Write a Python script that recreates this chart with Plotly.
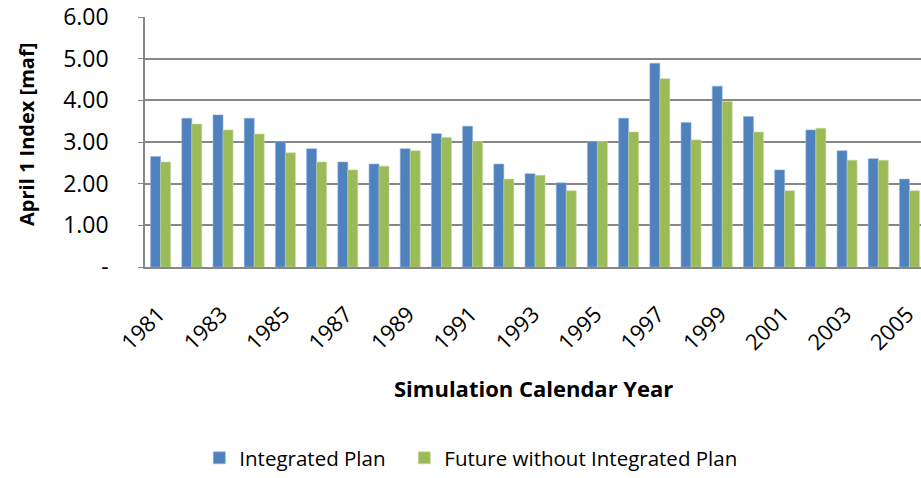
import plotly.graph_objects as go

years = list(range(1981, 2006))
integrated_plan = [2.65, 3.57, 3.65, 3.57, 3.01, 2.84, 2.52, 2.47,
                   2.84, 3.20, 3.38, 2.47, 2.24, 2.02, 3.01, 3.57,
                   4.89, 3.47, 4.34, 3.61, 2.33, 3.29, 2.79, 2.60, 2.11]
future_without = [2.52, 3.43, 3.29, 3.19, 2.74, 2.52, 2.33, 2.42,
                  2.79, 3.11, 3.01, 2.11, 2.20, 1.83, 3.01, 3.24,
                  4.52, 3.05, 3.97, 3.24, 1.83, 3.33, 2.56, 2.56, 1.83]
y_ticks = [0, 1, 2, 3, 4, 5, 6]
y_tick_text = ["-", "1.00", "2.00", "3.00", "4.00", "5.00", "6.00"]
x_ticks = years[::2]

FONT = "Open Sans"
GRID = "#878787"

fig = go.Figure()
fig.add_bar(x=years, y=integrated_plan, name="Integrated Plan", legendwidth=160,
            marker=dict(color="#4F81BD", line=dict(color="#8DB3E2", width=0.6)))
fig.add_bar(x=years, y=future_without, name="Future without Integrated Plan",
            marker=dict(color="#9BBB59", line=dict(color="#C3D69B", width=0.6)))

fig.update_layout(
    width=921, height=478,
    barmode="group",
    bargap=0.36, bargroupgap=0,
    margin=dict(l=145, r=0, t=17, b=201),
    paper_bgcolor="white", plot_bgcolor="white",
    font=dict(family=FONT, color="black"),
    showlegend=True,
    legend=dict(orientation="h", x=0.07, xanchor="left", y=-0.765, yanchor="middle",
                font=dict(size=20.5, family=FONT), itemwidth=30, traceorder="normal"),
)
fig.update_xaxes(
    range=[1980.5, 2005.37], automargin=False,
    tickmode="array", tickvals=x_ticks, ticktext=[str(y) for y in x_ticks],
    tickangle=-45, tickfont=dict(size=22),
    showgrid=False, showline=True, linecolor=GRID, linewidth=1.5,
    ticks="", ticklabelstandoff=24, ticklabelshift=-2, zeroline=False,
)
fig.update_yaxes(
    range=[0, 6], automargin=False,
    tickmode="array", tickvals=y_ticks, ticktext=y_tick_text,
    tickfont=dict(size=23),
    showgrid=True, gridcolor=GRID, gridwidth=1.5,
    showline=True, linecolor=GRID, linewidth=1.5,
    ticks="outside", ticklen=5, tickcolor=GRID, ticklabelstandoff=25,
    zeroline=False,
)

fig.add_annotation(text="<b>Simulation Calendar Year</b>", xref="paper", yref="paper",
                   x=0.5, y=0, yshift=-121, xanchor="center", yanchor="middle",
                   showarrow=False, font=dict(size=22, family=FONT))
fig.add_annotation(text="<b>April 1 Index [maf]</b>", xref="paper", yref="paper",
                   x=0, y=0.5, xshift=-119, yshift=7, xanchor="center", yanchor="middle",
                   textangle=-90, showarrow=False, font=dict(size=20, family=FONT))

# page body has a default 8px margin; drop it so the chart sits at the window corner
fig.write_html("out.html", config={"displayModeBar": False},
               post_script="document.body.style.margin='0';")
